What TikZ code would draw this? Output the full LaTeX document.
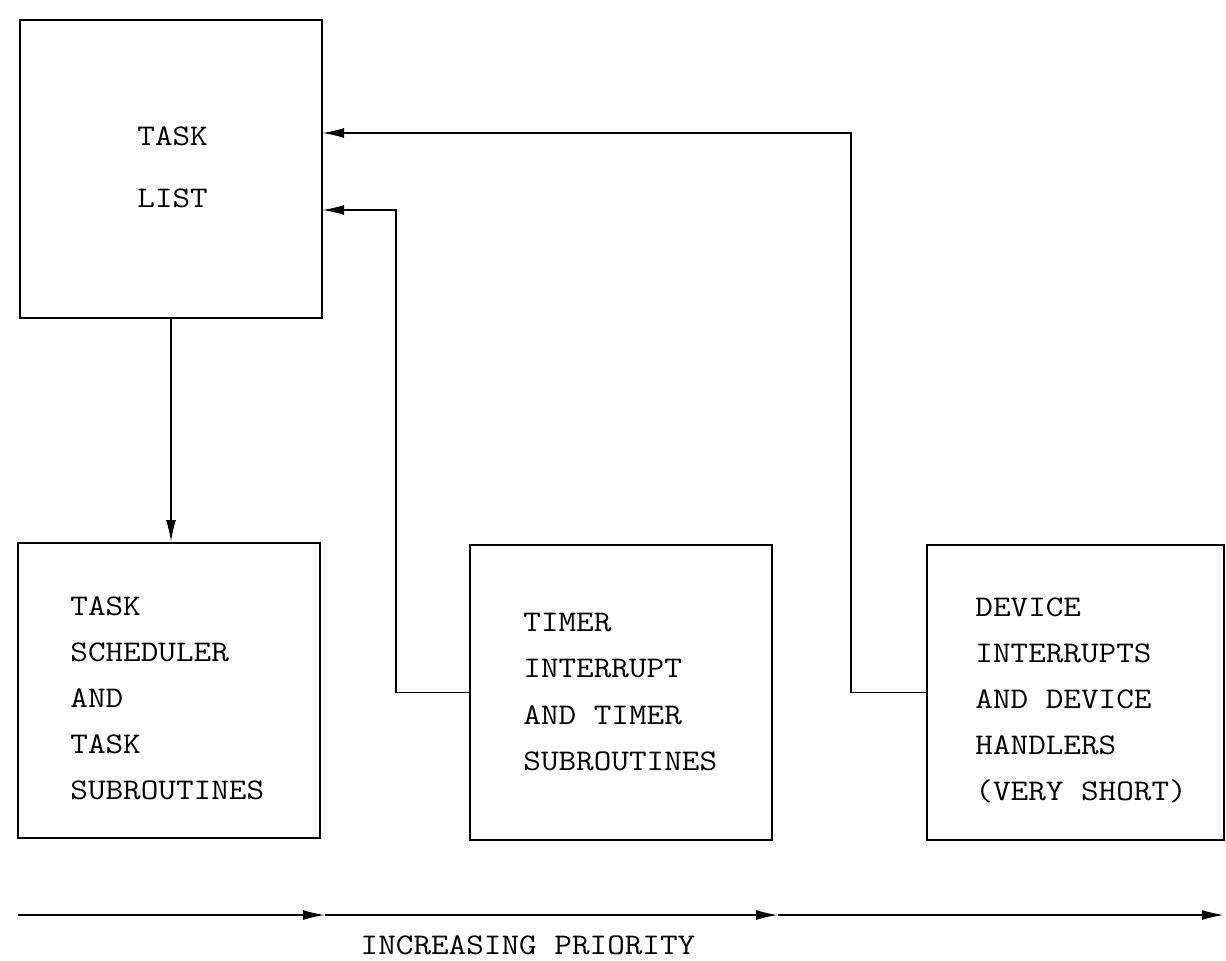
\documentclass[tikz,border=0pt]{standalone}
\usepackage{fontspec}
\setmonofont[FakeStretch=1.14]{Latin Modern Mono}
\usetikzlibrary{arrows.meta}

\tikzset{
  box/.style={draw, line width=1pt, minimum width=151pt, minimum height=147.5pt, inner sep=0pt},
  lbl/.style={anchor=north west, inner sep=0pt, align=left, font=\ttfamily\fontsize{15pt}{23.1pt}\selectfont},
  conn/.style={line width=0.9pt, -{Latex[length=11pt,width=5pt]}}
}

\begin{document}
\begin{tikzpicture}[x=0.5pt,y=-0.5pt]
\useasboundingbox (0,0) rectangle (1226,960);

\node[box, minimum height=149pt] (tl) at (171,169) {};
\node[box] (ts) at (169,690.5) {};
\node[box] (tm) at (621,692.5) {};
\node[box, minimum width=148.5pt] (dv) at (1075.5,692.5) {};

\node[lbl, font=\ttfamily\fontsize{15pt}{31pt}\selectfont] (tlt) at (137,126) {TASK\\LIST};
\node[lbl] (tst) at (70,596) {TASK\\SCHEDULER\\AND\\TASK\\SUBROUTINES};
\node[lbl] (tmt) at (523,613) {TIMER\\INTERRUPT\\AND TIMER\\SUBROUTINES};
\node[lbl] (dvt) at (975,597) {DEVICE\\INTERRUPTS\\AND DEVICE\\HANDLERS\\(VERY SHORT)};

\coordinate (din) at (322,133);
\coordinate (tin) at (322,210);

\draw[conn] (tl.south) -- (tl.south |- ts.north);
\draw[conn] (tm.west) -- ++(-73,0) |- (tin);
\draw[conn] (dv.west) -- ++(-75,0) |- (din);

\coordinate (p0) at (18,915);
\coordinate (p1) at (325,915);
\coordinate (p2) at (778,915);
\coordinate (p3) at (1224,915);
\draw[conn] (p0) -- (p1);
\draw[conn] (p1) -- (p2);
\draw[conn] (p2) -- (p3);
\node[font=\ttfamily\fontsize{15pt}{18pt}\selectfont, inner sep=0pt] (pr) at (528,945) {INCREASING PRIORITY};

\end{tikzpicture}
\end{document}
